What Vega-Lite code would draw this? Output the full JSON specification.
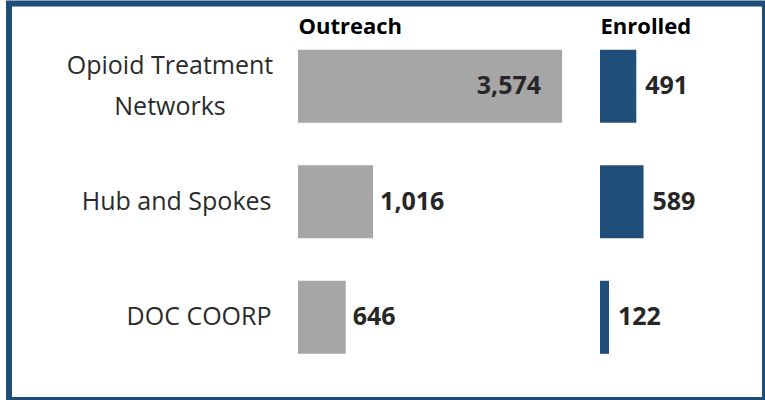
{
  "$schema": "https://vega.github.io/schema/vega-lite/v6.json",
  "autosize": {"type": "none"},
  "padding": {"left": 9, "top": 3.5, "right": 0, "bottom": 0},
  "width": 756,
  "height": 396.5,
  "background": "white",
  "config": {"view": {"stroke": "#1f4e79", "strokeWidth": 6, "fill": "white"}},
  "data": {
    "values": [
      {"program": "Opioid Treatment|Networks", "outreach": 3574, "enrolled": 491},
      {"program": "Hub and Spokes", "outreach": 1016, "enrolled": 589},
      {"program": "DOC COORP", "outreach": 646, "enrolled": 122}
    ]
  },
  "encoding": {
    "y": {
      "field": "program",
      "type": "nominal",
      "sort": null,
      "scale": {"paddingInner": 0.368, "paddingOuter": 0.4},
      "axis": {
        "title": null,
        "domain": false,
        "ticks": false,
        "tickSize": 0,
        "grid": false,
        "labelPadding": {"condition": {"test": "indexof(datum.label, '|') >= 0", "value": 101.5}, "value": 0},
        "offset": -262,
        "labelAlign": {"condition": {"test": "indexof(datum.label, '|') >= 0", "value": "center"}, "value": "right"},
        "labelBaseline": "middle",
        "labelOffset": {"condition": {"test": "indexof(datum.label, '|') >= 0", "value": -20.5}, "value": 0},
        "labelFont": "Open Sans",
        "labelFontSize": 25,
        "labelColor": "#2b2b2b",
        "labelLineHeight": 41,
        "labelLimit": 0,
        "labelExpr": "split(datum.label, '|')"
      }
    }
  },
  "layer": [
    {
      "encoding": {
        "x": {
          "field": "outreach",
          "type": "quantitative",
          "scale": {"domain": [0, 4000], "range": [289, 584.6], "nice": false},
          "axis": {
            "orient": "top",
            "title": "Outreach",
            "titleAnchor": "start",
            "titleAlign": "left",
            "titleY": 29.5,
            "titleBaseline": "alphabetic",
            "titleFont": "Open Sans",
            "titleFontSize": 22,
            "titleFontWeight": "bold",
            "titleColor": "#000000",
            "labels": false,
            "ticks": false,
            "domain": false,
            "grid": false
          }
        }
      },
      "layer": [
        {"mark": {"type": "bar", "color": "#a6a6a6"}},
        {
          "transform": [{"filter": "datum.outreach > 3000"}],
          "mark": {"type": "text", "align": "right", "baseline": "middle", "dx": -21, "font": "Open Sans", "fontWeight": "bold", "fontSize": 25, "color": "#262626"},
          "encoding": {"text": {"field": "outreach", "type": "quantitative", "format": ","}}
        },
        {
          "transform": [{"filter": "datum.outreach <= 3000"}],
          "mark": {"type": "text", "align": "left", "baseline": "middle", "dx": 7, "font": "Open Sans", "fontWeight": "bold", "fontSize": 25, "color": "#262626"},
          "encoding": {"text": {"field": "outreach", "type": "quantitative", "format": ","}}
        }
      ]
    },
    {
      "encoding": {
        "x": {
          "field": "enrolled",
          "type": "quantitative",
          "scale": {"domain": [0, 1000], "range": [591, 664.9], "nice": false},
          "axis": {
            "orient": "top",
            "title": "Enrolled",
            "titleAnchor": "start",
            "titleAlign": "left",
            "titleY": 29.5,
            "titleBaseline": "alphabetic",
            "titleFont": "Open Sans",
            "titleFontSize": 22,
            "titleFontWeight": "bold",
            "titleColor": "#000000",
            "labels": false,
            "ticks": false,
            "domain": false,
            "grid": false
          }
        }
      },
      "layer": [
        {"mark": {"type": "bar", "color": "#1f4e79"}},
        {
          "mark": {"type": "text", "align": "left", "baseline": "middle", "dx": 9, "font": "Open Sans", "fontWeight": "bold", "fontSize": 25, "color": "#262626"},
          "encoding": {"text": {"field": "enrolled", "type": "quantitative", "format": ","}}
        }
      ]
    }
  ],
  "resolve": {"scale": {"x": "independent"}, "axis": {"x": "independent"}}
}
